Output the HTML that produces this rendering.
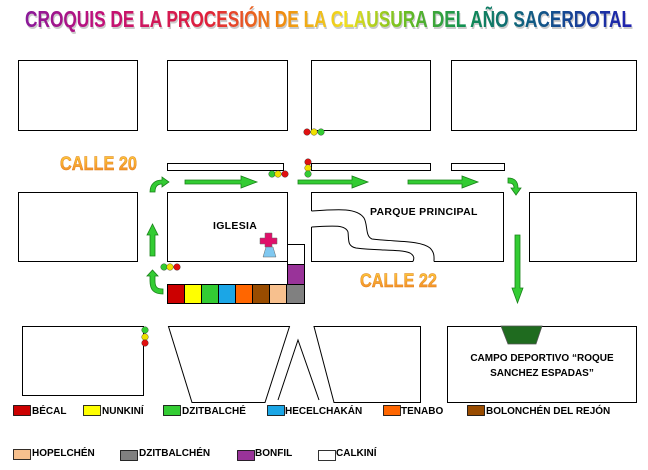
<!DOCTYPE html>
<html><head><meta charset="utf-8"><style>
html,body{margin:0;padding:0;background:#fff;}
svg{display:block;}
text{font-family:"Liberation Sans",sans-serif;}
</style></head><body>
<svg width="648" height="470" viewBox="0 0 648 470" xmlns="http://www.w3.org/2000/svg">
<defs>
<linearGradient id="rb" x1="25" y1="0" x2="633" y2="0" gradientUnits="userSpaceOnUse">
<stop offset="0" stop-color="#8a1a9a"/><stop offset="0.12" stop-color="#c0107a"/>
<stop offset="0.3" stop-color="#e0203a"/><stop offset="0.42" stop-color="#f08a10"/>
<stop offset="0.53" stop-color="#f0e020"/><stop offset="0.62" stop-color="#70c020"/>
<stop offset="0.72" stop-color="#109050"/><stop offset="0.82" stop-color="#106080"/>
<stop offset="1" stop-color="#2020b0"/></linearGradient>
<linearGradient id="og" x1="0" y1="0" x2="0" y2="1">
<stop offset="0" stop-color="#ffd040"/><stop offset="1" stop-color="#f08020"/></linearGradient>
</defs>
<text x="26" y="29" font-size="23" font-weight="bold" fill="#999" textLength="607" lengthAdjust="spacingAndGlyphs" opacity="0.5">CROQUIS DE LA PROCESIÓN DE LA CLAUSURA DEL AÑO SACERDOTAL</text>
<text x="25" y="27" font-size="23" font-weight="bold" fill="url(#rb)" textLength="607" lengthAdjust="spacingAndGlyphs">CROQUIS DE LA PROCESIÓN DE LA CLAUSURA DEL AÑO SACERDOTAL</text>

<g fill="#fff" stroke="#000" stroke-width="1">
<rect x="18.5" y="60.5" width="119" height="70"/>
<rect x="167.5" y="60.5" width="120" height="70"/>
<rect x="311.5" y="60.5" width="119" height="70"/>
<rect x="451.5" y="60.5" width="185" height="70"/>
<rect x="167.5" y="163.5" width="116" height="7"/>
<rect x="311.5" y="163.5" width="119" height="7"/>
<rect x="451.5" y="163.5" width="53" height="7"/>
<rect x="18.5" y="192.5" width="119" height="69"/>
<rect x="167.5" y="192.5" width="120" height="69"/>
<rect x="529.5" y="192.5" width="107" height="69"/>
<rect x="287.5" y="244.5" width="17" height="20"/>
<rect x="22.5" y="326.5" width="121" height="69"/>
<rect x="447.5" y="326.5" width="189" height="76"/>
</g>
<g fill="none" stroke="#000" stroke-width="1">
<path d="M311.5 211 V192.5 H503.5 V261.5 H434"/>
<path d="M413 261.5 H311.5 V227"/>
<path d="M311.5 211 C340 209 357 208 364 218 C368 225 365 236 372 239 C395 242 420 240 430 248 C435 253 434 258 434 261.5"/>
<path d="M311.5 227 C330 226 345 224 348 232 C349 240 347 246 356 248 C380 251 400 249 410 253 C415 256 414 259 413 261.5"/>
<path d="M168.5 326.5 H289.5 L265 402.5 H192 Z"/>
<path d="M314 326.5 H420.5 V402.5 H334 Z"/>
<path d="M278 400 L298 340 L319 400"/>
</g>
<text x="213" y="229" font-size="10.5" font-weight="bold" letter-spacing="0.3">IGLESIA</text>
<text x="370" y="215" font-size="10.5" font-weight="bold" letter-spacing="0.3">PARQUE PRINCIPAL</text>
<text x="542" y="361" font-size="10" font-weight="bold" text-anchor="middle">CAMPO DEPORTIVO “ROQUE</text>
<text x="542" y="376" font-size="10" font-weight="bold" text-anchor="middle">SANCHEZ ESPADAS”</text>

<text x="60" y="170" font-size="19" font-weight="bold" fill="url(#og)" stroke="#e08020" stroke-width="0.5" textLength="77" lengthAdjust="spacingAndGlyphs">CALLE 20</text>
<text x="360" y="287" font-size="19" font-weight="bold" fill="url(#og)" stroke="#e08020" stroke-width="0.5" textLength="77" lengthAdjust="spacingAndGlyphs">CALLE 22</text>

<g stroke="#000" stroke-width="1">
<rect x="167.5" y="284.5" width="17" height="19" fill="#cc0000"/>
<rect x="184.5" y="284.5" width="17" height="19" fill="#ffff00"/>
<rect x="201.5" y="284.5" width="17" height="19" fill="#33cc33"/>
<rect x="218.5" y="284.5" width="17" height="19" fill="#1ba6e6"/>
<rect x="235.5" y="284.5" width="17" height="19" fill="#ff6600"/>
<rect x="252.5" y="284.5" width="17" height="19" fill="#994c00"/>
<rect x="269.5" y="284.5" width="17" height="19" fill="#f7c08e"/>
<rect x="286.5" y="284.5" width="18" height="19" fill="#808080"/>
<rect x="287.5" y="264.5" width="17" height="20" fill="#993399"/>
</g>
<path d="M265 233 h7 v5 h5 v6 h-5 v3 h-7 v-3 h-5 v-6 h5 z" fill="#e0106a" stroke="#666" stroke-width="0.5"/>
<path d="M266 247 h7 l3 10 h-13 z" fill="#80c8f0" stroke="#666" stroke-width="0.5"/>
<g fill="#33cc33" stroke="#1a801a" stroke-width="0.8">
<path d="M185 180 H241 V176 L257 182 L241 188 V184 H185 Z"/>
<path d="M298 180 H352 V176 L368 182 L352 188 V184 H298 Z"/>
<path d="M408 180 H462 V176 L478 182 L462 188 V184 H408 Z"/>
<path d="M150 256 V235 H147 L152.5 224 L158 235 H155 V256 Z"/>
<path d="M515 235 H520 V288 H523 L517.5 303 L512 288 H515 Z"/>
<path d="M150 192 C150 184 155 180 162 180 V177 L169 182 L162 187 V184 C157 184 155 187 155 192 Z"/>
<path d="M155 276 V281 C155 287 157 289 163 289 V294 C154 294 150 290 150 281 V276 H147 L152.5 270 L158 276 Z"/>
<path d="M508 178 C514 178 518 181 518 188 H521 L516 195 L511 188 H514 C514 184 512 183 508 183 Z"/>
</g>
<g stroke="#333" stroke-width="0.4">
<circle cx="307" cy="132" r="3.3" fill="#e01010"/><circle cx="314" cy="132" r="3.3" fill="#f0e000"/><circle cx="321" cy="132" r="3.3" fill="#33cc33"/>
<circle cx="308" cy="162" r="3.3" fill="#e01010"/><circle cx="308" cy="168" r="3.3" fill="#f0e000"/><circle cx="308" cy="174" r="3.3" fill="#33cc33"/>
<circle cx="272" cy="174" r="3.3" fill="#33cc33"/><circle cx="278" cy="174" r="3.3" fill="#f0e000"/><circle cx="285" cy="174" r="3.3" fill="#e01010"/>
<circle cx="164" cy="267" r="3.3" fill="#33cc33"/><circle cx="170" cy="267" r="3.3" fill="#f0e000"/><circle cx="177" cy="267" r="3.3" fill="#e01010"/>
<circle cx="145" cy="330" r="3.3" fill="#33cc33"/><circle cx="145" cy="337" r="3.3" fill="#f0e000"/><circle cx="145" cy="343" r="3.3" fill="#e01010"/>
</g>
<path d="M501 326 H542 L536 344 H508 Z" fill="#1f6b1f" stroke="#555" stroke-width="0.8"/>
<g stroke="#000" stroke-width="0.8">
<rect x="13.5" y="405.5" width="17" height="10" fill="#cc0000"/>
<rect x="83.5" y="405.5" width="17" height="10" fill="#ffff00"/>
<rect x="163.5" y="405.5" width="17" height="10" fill="#33cc33"/>
<rect x="267.5" y="405.5" width="17" height="10" fill="#1ba6e6"/>
<rect x="383.5" y="405.5" width="17" height="10" fill="#ff6600"/>
<rect x="467.5" y="405.5" width="17" height="10" fill="#994c00"/>
<rect x="13.5" y="449.5" width="17" height="10" fill="#f7c08e"/>
<rect x="120.5" y="450.5" width="17" height="10" fill="#808080"/>
<rect x="237.5" y="450.5" width="17" height="10" fill="#993399"/>
<rect x="318.5" y="450.5" width="17" height="10" fill="#fff"/>
</g>
<g font-size="10" font-weight="bold">
<text x="32" y="414">BÉCAL</text>
<text x="102" y="414">NUNKINÍ</text>
<text x="182" y="414">DZITBALCHÉ</text>
<text x="285" y="414">HECELCHAKÁN</text>
<text x="401" y="414">TENABO</text>
<text x="486" y="414">BOLONCHÉN DEL REJÓN</text>
<text x="32" y="456">HOPELCHÉN</text>
<text x="139" y="456">DZITBALCHÉN</text>
<text x="255" y="456">BONFIL</text>
<text x="336" y="456">CALKINÍ</text>
</g>
</svg>
</body></html>
